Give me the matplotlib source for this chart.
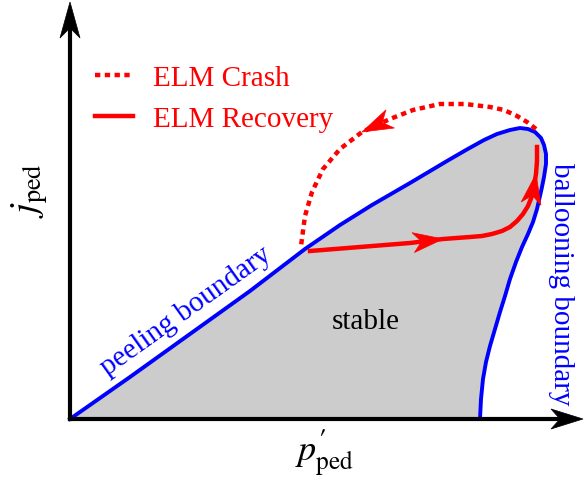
"""Peeling-ballooning stability diagram with ELM cycle (schematic)."""
import numpy as np
import matplotlib
matplotlib.use("Agg")
import matplotlib.pyplot as plt
from matplotlib.patches import Polygon

plt.rcParams["font.family"] = ["Liberation Serif", "DejaVu Serif"]
plt.rcParams["mathtext.fontset"] = "stix"

# stability boundary: peeling up the left side, ballooning down the right side
boundary_x = [0, 60, 120, 180, 235, 270, 302, 340, 377, 396, 414, 427, 440,
              450, 458, 465, 471, 474, 476, 476, 474, 472, 470, 467, 463,
              458, 452, 446, 440, 435, 430, 425, 420, 416, 413, 411, 410]
boundary_y = [0, 42, 85, 128, 170, 194, 214, 236, 258, 269, 279, 285, 289,
              291, 290, 287, 281, 274, 265, 255, 242, 232, 223, 210, 197,
              185, 172, 157, 140, 123, 107, 90, 73, 57, 40, 20, 0]

# ELM crash (dotted) and recovery (solid) paths
crash_x = [466, 457, 447, 434, 420, 395, 370, 343, 320, 292, 270, 253, 242,
           235, 231]
crash_y = [290, 297, 303, 309, 312, 315, 315, 309, 300, 287, 270, 250, 227,
           203, 173]
recovery_x = [240, 290, 340, 373, 400, 412, 422, 432, 440, 447, 453, 458,
              462, 464, 466, 467, 467]
recovery_y = [168, 172, 176, 180, 182, 183, 185, 188, 192, 198, 205, 213,
              223, 233, 245, 258, 272]

crash_arrow_idx = [9]
recovery_arrow_idx = [3, 14]

X_END, Y_END = 513, 417  # axis arrow tips


def stealth(ax, tip, prev, length, width, color, notch=0.72, z=6):
    tip = np.asarray(tip, float)
    d = tip - np.asarray(prev, float)
    d /= np.hypot(*d)
    n = np.array([-d[1], d[0]])
    pts = [tip,
           tip - length * d + width / 2 * n,
           tip - notch * length * d,
           tip - length * d - width / 2 * n]
    ax.add_patch(Polygon(pts, closed=True, fc=color, ec=color, lw=0.5,
                         zorder=z, clip_on=False))


fig = plt.figure(figsize=(5.84, 4.85), dpi=100)
ax = fig.add_axes([0, 0, 1, 1])
ax.set_xlim(-70, 514)
ax.set_ylim(-65, 420)
ax.axis("off")

ax.fill(boundary_x, boundary_y, color="#cccccc", lw=0, zorder=1)
ax.plot(boundary_x, boundary_y, color="blue", lw=2.8,
        solid_joinstyle="round", zorder=3)

crash_line, = ax.plot(crash_x, crash_y, color="red", lw=3.2,
                      linestyle=(0, (1.2, 1.0)), zorder=4, label="ELM Crash")
rec_line, = ax.plot(recovery_x, recovery_y, color="red", lw=3.2,
                    solid_joinstyle="round", zorder=4, label="ELM Recovery")
for i in crash_arrow_idx:
    stealth(ax, (crash_x[i], crash_y[i]), (crash_x[i - 1], crash_y[i - 1]),
            31, 20, "red")
for i in recovery_arrow_idx:
    stealth(ax, (recovery_x[i], recovery_y[i]),
            (recovery_x[i - 1], recovery_y[i - 1]), 30, 20, "red")

# axes with arrow heads
ax.plot([0, X_END - 0.72 * 32], [0, 0], color="black", lw=3,
        solid_capstyle="projecting", zorder=5)
ax.plot([0, 0], [0, Y_END - 0.72 * 36], color="black", lw=3,
        solid_capstyle="projecting", zorder=5)
stealth(ax, (X_END, 0), (0, 0), 32, 20, "black")
stealth(ax, (0, Y_END), (0, 0), 36, 20, "black")

ax.text(-40, 229, r"$j_{\mathrm{ped}}$", fontsize=27, rotation=90,
        ha="center", va="center")
ax.text(255, -33, r"$p^{\mathbf{\prime}}_{\mathrm{ped}}$", fontsize=26,
        ha="center", va="center")

ax.text(116, 109, "peeling boundary", color="blue", fontsize=21,
        rotation=35.5, rotation_mode="anchor", ha="center", va="center")
ax.text(491, 136, "ballooning boundary", color="blue", fontsize=21,
        rotation=-90, ha="center", va="center")
ax.text(296, 98, "stable", color="black", fontsize=21,
        ha="center", va="center")

ax.legend(handles=[crash_line, rec_line], loc="upper left",
          bbox_to_anchor=(95 / 584, 1 - 66 / 485), frameon=False,
          fontsize=21, labelcolor="red", handlelength=1.3,
          handletextpad=0.7, labelspacing=0.48, borderpad=0,
          borderaxespad=0)

fig.savefig("out.png", dpi=100)
